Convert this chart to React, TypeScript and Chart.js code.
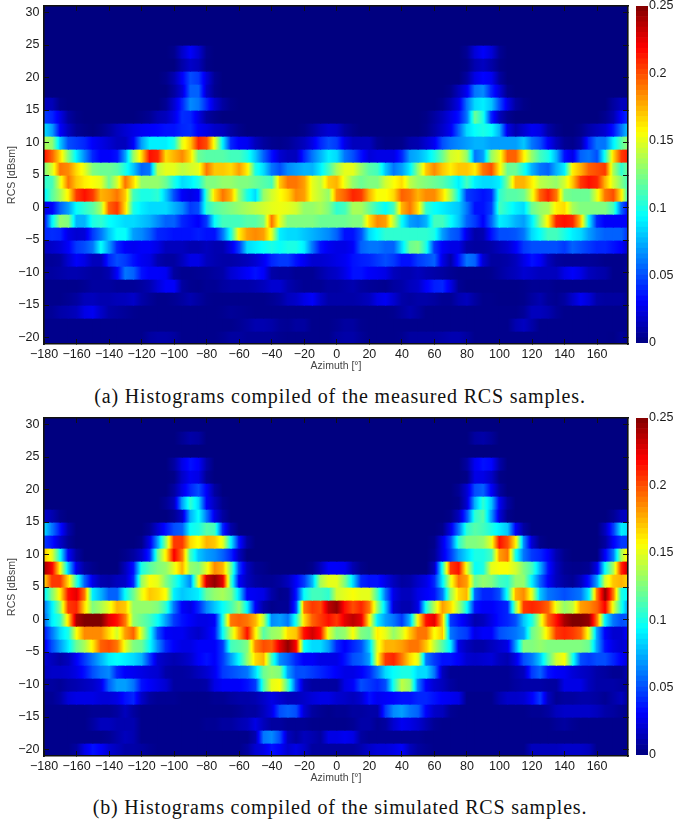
import React, { useEffect, useRef } from "react";
import { Chart, BarController, BarElement, LinearScale, CategoryScale } from "chart.js";

Chart.register(BarController, BarElement, LinearScale, CategoryScale);

const rcsBins = [30, 28, 26, 24, 22, 20, 18, 16, 14, 12, 10, 8, 6, 4, 2, 0, -2, -4, -6, -8, -10, -12, -14, -16, -18, -20];
const azimuthBins = [
  -180, -175, -170, -165, -160, -155, -150, -145, -140, -135, -130, -125,
  -120, -115, -110, -105, -100, -95, -90, -85, -80, -75, -70, -65,
  -60, -55, -50, -45, -40, -35, -30, -25, -20, -15, -10, -5,
  0, 5, 10, 15, 20, 25, 30, 35, 40, 45, 50, 55,
  60, 65, 70, 75, 80, 85, 90, 95, 100, 105, 110, 115,
  120, 125, 130, 135, 140, 145, 150, 155, 160, 165, 170, 175,
];
const azimuthTicks = [-180, -160, -140, -120, -100, -80, -60, -40, -20, 0, 20, 40, 60, 80, 100, 120, 140, 160];
const rcsTicks = [-20, -15, -10, -5, 0, 5, 10, 15, 20, 25, 30];
const colorbarTicks = [0, 0.05, 0.1, 0.15, 0.2, 0.25];
const colorLevels = [
  0, 1, 2, 3, 4, 5, 6, 7, 8, 9, 10, 11, 12, 13, 14, 15, 16, 17, 18, 19, 20, 21, 22, 23, 24, 25, 26, 27, 28, 29, 30, 31,
  32, 33, 34, 35, 36, 37, 38, 39, 40, 41, 42, 43, 44, 45, 46, 47, 48, 49, 50, 51, 52, 53, 54, 55, 56, 57, 58, 59, 60, 61, 62, 63,
];

// Histogram values in thousandths, one row per RCS bin from top to bottom, one value per azimuth bin.
const measured: number[][] = [
  [0,0,0,0,0,0,0,0,0,0,0,0, 0,0,0,0,0,0,0,0,0,0,0,0, 0,0,0,0,0,0,0,0,0,0,0,0, 0,0,0,0,0,0,0,0,0,0,0,0, 0,0,0,0,0,0,0,0,0,0,0,0, 0,0,0,0,0,0,0,0,0,0,0,0],
  [0,0,0,0,0,0,0,0,0,0,0,0, 0,0,0,0,0,0,0,0,0,0,0,0, 0,0,0,0,0,0,0,0,0,0,0,0, 0,0,0,0,0,0,0,0,0,0,0,0, 0,0,0,0,0,0,0,0,0,0,0,0, 0,0,0,0,0,0,0,0,0,0,0,0],
  [0,0,0,0,0,0,0,0,0,0,0,0, 0,0,0,0,0,0,0,0,0,0,0,0, 0,0,0,0,0,0,0,0,0,0,0,0, 0,0,0,0,0,0,0,0,0,0,0,0, 0,0,0,0,0,0,0,0,0,0,0,0, 0,0,0,0,0,0,0,0,0,0,0,0],
  [0,0,0,0,0,0,0,0,0,0,0,0, 0,0,0,0,3,18,30,20,3,0,0,0, 0,0,0,0,0,0,0,0,0,0,0,0, 0,0,0,0,0,0,0,0,0,0,0,0, 0,0,0,0,5,22,30,22,5,0,0,0, 0,0,0,0,0,0,0,0,0,0,0,0],
  [0,0,0,0,0,0,0,0,0,0,0,0, 0,0,0,0,0,10,18,14,2,0,0,0, 0,0,0,0,0,0,0,0,0,0,0,0, 0,0,0,0,0,0,0,0,0,0,0,0, 0,0,0,0,2,12,16,10,2,0,0,0, 0,0,0,0,0,0,0,0,0,0,0,0],
  [0,0,0,0,0,0,0,0,0,0,0,0, 0,0,0,3,12,30,50,45,22,5,0,0, 0,0,0,0,0,0,0,0,0,0,0,0, 0,0,0,0,0,0,0,0,0,0,0,0, 0,0,0,0,8,25,32,28,8,0,0,0, 0,0,0,0,0,0,0,0,0,0,0,0],
  [0,0,0,0,0,0,0,0,0,0,0,0, 0,0,0,0,8,22,55,55,18,4,0,0, 0,0,0,0,0,0,0,0,0,0,0,0, 0,0,0,0,0,0,0,0,0,0,0,0, 0,0,3,15,28,60,65,40,22,3,0,0, 0,0,0,0,0,0,0,0,0,0,0,0],
  [15,14,2,0,0,0,0,0,0,0,0,0, 0,0,0,5,20,40,65,60,40,20,8,2, 0,0,0,0,0,0,0,0,0,0,0,0, 0,0,0,0,0,0,0,0,0,0,0,0, 0,3,12,25,60,85,90,80,50,25,8,2, 0,0,0,0,0,0,0,0,0,0,8,15],
  [45,40,25,8,2,0,0,0,0,0,0,0, 2,5,12,15,25,42,40,25,8,3,0,0, 0,0,0,0,0,0,0,0,0,0,0,0, 0,0,0,0,0,0,0,0,0,0,0,2, 8,15,25,35,60,120,100,40,15,4,0,0, 0,0,0,0,0,0,0,0,0,4,12,32],
  [85,70,30,15,5,2,0,3,8,15,20,25, 28,30,32,35,35,40,42,30,25,18,15,8, 3,0,0,0,0,0,0,0,2,8,15,20, 18,8,3,0,0,0,0,0,0,0,0,3, 10,18,28,55,85,95,100,95,75,25,12,20, 28,25,10,3,0,0,3,10,15,20,35,60],
  [135,130,80,50,45,40,30,25,20,15,15,30, 70,90,90,90,100,150,170,210,200,150,90,40, 30,28,15,8,4,3,5,10,15,25,40,50, 45,25,15,15,15,5,2,2,3,10,12,20, 28,50,60,65,70,75,75,70,70,70,70,80, 60,50,30,15,5,3,10,40,60,60,90,115],
  [215,195,165,125,90,65,40,30,30,35,70,130, 165,215,210,165,175,185,165,120,115,115,115,110, 110,100,80,55,35,20,15,15,40,60,75,90, 85,60,50,35,22,25,25,25,40,70,75,85, 100,120,145,150,130,60,70,130,150,195,195,160, 130,110,100,75,35,25,55,60,50,100,165,205],
  [125,145,190,185,165,150,125,120,120,115,100,80, 55,60,140,150,150,140,145,150,190,170,170,165, 180,160,100,85,60,50,65,70,75,75,90,110, 135,150,150,130,115,110,80,60,70,90,130,170, 185,170,160,170,170,160,190,200,160,120,120,100, 75,60,55,75,90,160,175,195,200,205,135,105],
  [105,110,150,190,170,160,155,150,120,145,190,165, 130,130,130,120,100,85,90,100,125,125,130,130, 125,125,120,115,110,170,190,190,180,150,140,170, 175,150,130,120,125,125,145,155,165,140,130,125, 120,115,105,90,110,90,85,85,90,125,175,175, 160,140,135,130,145,170,205,215,210,175,145,125],
  [90,115,135,160,205,215,205,175,180,190,170,110, 100,100,105,80,50,30,25,30,110,165,190,175, 130,100,85,130,145,155,165,185,180,150,140,130, 185,195,210,205,175,155,155,165,195,190,175,185, 185,165,135,95,45,40,35,40,105,115,115,120, 150,195,210,190,125,120,120,120,150,190,200,160],
  [25,30,55,70,95,105,115,135,195,205,165,100, 90,85,85,85,75,65,45,50,105,115,120,125, 130,135,140,145,150,152,150,145,130,130,135,125, 105,110,135,135,120,105,95,110,175,190,165,105, 95,90,85,80,60,35,35,45,110,100,90,85, 120,130,135,160,165,135,125,125,125,125,110,55],
  [30,90,130,125,75,75,100,105,95,90,85,85, 80,75,65,55,55,40,35,30,45,95,110,110, 110,115,115,125,190,150,125,125,125,125,120,120, 120,120,125,125,165,185,180,140,95,70,65,75, 110,110,95,80,55,45,30,55,90,85,75,70, 90,125,160,210,215,210,170,90,40,30,30,30],
  [40,42,40,25,20,22,45,60,80,95,95,70, 65,55,40,38,35,35,35,38,35,35,60,100, 160,180,185,180,150,90,85,85,80,75,70,65, 55,35,35,50,85,95,105,105,105,105,105,105, 100,70,55,50,25,10,12,35,50,50,52,60, 85,95,110,110,100,90,85,70,60,55,55,55],
  [15,18,22,30,45,50,60,95,70,40,30,28, 30,30,25,15,15,15,12,12,15,12,12,25, 45,85,90,95,100,95,100,100,90,60,35,28, 25,25,30,55,60,60,55,55,85,120,125,100, 45,30,25,25,10,8,8,10,15,20,30,45, 50,50,50,50,45,55,50,45,40,40,35,30],
  [6,6,8,20,30,25,15,15,40,50,45,35, 28,25,12,8,8,15,25,25,15,12,10,10, 12,15,20,28,40,45,45,35,28,20,20,22, 25,28,35,38,40,45,50,45,35,35,45,50, 55,25,10,35,60,55,20,8,8,10,15,25, 35,30,15,8,6,6,6,6,5,3,3,3],
  [8,8,10,12,12,10,8,8,12,30,60,55, 35,30,30,28,8,4,4,5,6,8,10,20, 25,30,35,30,10,8,8,5,5,5,10,15, 18,25,35,35,30,28,25,15,12,12,15,12, 10,8,5,3,3,3,3,4,8,12,15,20, 18,15,15,15,25,30,25,15,12,10,3,3],
  [3,3,3,3,3,5,8,8,8,6,6,6, 8,12,22,30,30,8,4,3,5,5,8,10, 10,10,12,15,20,20,12,8,5,5,5,8, 8,10,12,8,6,5,4,8,10,15,18,30, 38,40,25,5,2,2,2,2,2,2,2,3, 5,5,5,3,3,3,3,3,3,3,3,3],
  [3,3,3,5,8,14,15,12,12,14,15,18, 10,6,3,3,5,8,12,8,4,3,3,3, 3,3,3,3,5,8,15,18,25,30,18,10, 10,10,10,12,15,25,28,20,10,8,10,10, 8,5,5,12,15,8,3,3,2,2,2,3, 8,12,6,4,8,18,28,22,10,8,8,8],
  [5,6,10,12,15,25,28,18,10,8,6,4, 3,3,3,3,3,3,3,3,3,3,4,6, 5,4,3,3,3,3,3,3,3,3,3,3, 3,3,3,3,3,3,3,4,8,12,8,3, 3,3,3,3,3,3,3,3,3,3,3,6, 15,15,12,6,3,3,3,3,3,3,3,3],
  [3,3,3,3,3,3,3,3,3,3,3,3, 3,3,3,3,3,3,3,3,3,3,3,3, 5,8,12,12,10,6,5,8,8,3,3,3, 5,8,8,4,3,3,3,3,3,3,3,3, 3,3,3,3,3,3,3,3,3,3,12,16, 10,3,3,3,3,3,3,3,3,3,3,3],
  [3,3,3,3,3,3,3,3,3,3,3,3, 3,8,10,10,8,3,3,3,3,3,5,8, 8,6,6,6,6,4,3,3,3,3,3,3, 8,10,10,6,3,3,3,3,4,8,8,8, 8,10,12,12,8,3,3,3,3,3,3,3, 3,3,3,3,3,3,3,3,3,3,2,6],
];

const simulated: number[][] = [
  [0,0,0,0,0,0,0,0,0,0,0,0, 0,0,0,0,0,0,0,0,0,0,0,0, 0,0,0,0,0,0,0,0,0,0,0,0, 0,0,0,0,0,0,0,0,0,0,0,0, 0,0,0,0,0,0,0,0,0,0,0,0, 0,0,0,0,0,0,0,0,0,0,0,0],
  [0,0,0,0,0,0,0,0,0,0,0,0, 0,0,0,0,0,5,10,8,0,0,0,0, 0,0,0,0,0,0,0,0,0,0,0,0, 0,0,0,0,0,0,0,0,0,0,0,0, 0,0,0,0,0,8,10,6,0,0,0,0, 0,0,0,0,0,0,0,0,0,0,0,0],
  [0,0,0,0,0,0,0,0,0,0,0,0, 0,0,0,0,0,0,0,0,0,0,0,0, 0,0,0,0,0,0,0,0,0,0,0,0, 0,0,0,0,0,0,0,0,0,0,0,0, 0,0,0,0,0,0,0,0,0,0,0,0, 0,0,0,0,0,0,0,0,0,0,0,0],
  [0,0,0,0,0,0,0,0,0,0,0,0, 0,0,0,0,8,25,35,30,10,0,0,0, 0,0,0,0,0,0,0,0,0,0,0,0, 0,0,0,0,0,0,0,0,0,0,0,0, 0,0,0,0,8,28,35,32,10,0,0,0, 0,0,0,0,0,0,0,0,0,0,0,0],
  [0,0,0,0,0,0,0,0,0,0,0,0, 0,0,0,0,2,18,28,25,5,0,0,0, 0,0,0,0,0,0,0,0,0,0,0,0, 0,0,0,0,0,0,0,0,0,0,0,0, 0,0,0,0,2,25,25,18,2,0,0,0, 0,0,0,0,0,0,0,0,0,0,0,0],
  [0,0,0,0,0,0,0,0,0,0,0,0, 0,0,0,0,8,25,40,50,30,8,0,0, 0,0,0,0,0,0,0,0,0,0,0,0, 0,0,0,0,0,0,0,0,0,0,0,0, 0,0,0,5,20,50,55,30,8,0,0,0, 0,0,0,0,0,0,0,0,0,0,0,0],
  [0,0,0,0,0,0,0,0,0,0,0,0, 0,0,0,5,15,70,105,85,30,15,3,0, 0,0,0,0,0,0,0,0,0,0,0,0, 0,0,0,0,0,0,0,0,0,0,0,0, 0,0,0,2,20,75,105,80,28,8,0,0, 0,0,0,0,0,0,0,0,0,0,0,0],
  [18,12,3,0,0,0,0,0,0,0,0,0, 0,0,0,0,5,18,75,95,60,25,8,0, 0,0,0,0,0,0,0,0,0,0,0,0, 0,0,0,0,0,0,0,0,0,0,0,0, 0,0,2,15,50,105,115,70,22,3,0,0, 0,0,0,0,0,0,0,0,0,0,5,15],
  [85,60,35,10,0,0,0,0,0,0,0,0, 0,5,20,35,50,55,95,100,115,110,40,10, 0,0,0,0,0,0,0,0,0,0,0,0, 0,0,0,0,0,0,0,0,0,0,0,0, 0,3,25,60,105,115,110,100,90,80,30,8, 0,0,0,0,0,0,0,0,0,15,45,90],
  [45,35,18,5,0,0,0,0,0,0,0,0, 3,25,70,130,205,205,165,155,175,170,150,90, 35,8,0,0,0,0,0,0,0,0,0,0, 0,0,0,0,0,0,0,0,0,0,0,0, 3,25,50,105,125,125,130,150,215,200,160,65, 20,3,0,0,0,0,0,0,0,8,30,45],
  [170,150,95,30,8,0,0,0,0,0,3,8, 18,40,120,160,220,190,110,80,70,65,55,40, 15,0,0,0,0,0,0,0,0,0,0,0, 0,0,0,0,0,0,0,0,0,0,0,0, 5,25,45,70,85,100,100,110,180,190,100,60, 45,40,30,12,3,0,0,0,0,30,60,135],
  [240,220,155,80,25,8,3,0,0,0,15,35, 100,115,125,130,150,175,130,125,150,185,175,120, 45,15,5,3,0,0,0,0,0,3,15,30, 30,28,12,3,0,0,0,0,0,0,0,0, 15,100,205,215,150,95,100,150,155,155,145,125, 110,75,35,15,5,3,3,5,25,95,135,210],
  [165,205,205,165,105,55,25,12,10,15,18,40, 130,155,150,125,105,85,65,150,230,245,225,110, 30,15,8,5,5,8,15,30,45,75,135,150, 150,125,85,40,35,35,25,15,8,10,18,25, 40,90,150,190,180,120,130,125,110,105,130,130, 90,55,30,15,8,5,15,35,70,145,170,175],
  [90,125,160,215,225,190,90,75,55,55,95,120, 150,170,165,155,90,80,85,90,120,130,135,125, 85,30,28,25,10,3,5,35,95,110,110,105, 145,150,155,150,150,110,60,25,15,15,25,30, 35,60,130,165,175,55,40,40,50,100,175,185, 150,80,60,55,50,55,60,90,190,245,190,100],
  [60,90,130,205,210,165,125,135,150,175,170,130, 130,130,125,105,60,30,25,40,65,80,95,110, 130,90,30,10,3,5,5,45,190,205,200,235, 245,215,200,210,190,130,80,20,12,12,25,100, 140,180,165,135,95,35,30,30,35,40,130,205, 210,205,195,150,130,140,180,185,195,220,150,100],
  [55,90,105,165,240,250,250,250,225,215,190,130, 120,110,95,70,45,35,30,25,25,30,100,190, 195,190,175,140,65,70,60,100,165,195,205,215, 205,225,235,225,160,90,70,60,45,75,160,215, 225,170,45,35,25,12,15,25,35,40,50,80, 100,145,195,215,240,250,250,245,190,90,60,50],
  [35,60,85,100,155,185,185,185,165,145,180,195, 145,100,50,30,28,28,22,18,25,35,95,140, 180,215,160,115,130,135,165,170,215,230,215,150, 125,130,155,125,120,160,150,130,145,170,190,190, 155,170,60,50,45,25,30,30,50,55,60,70, 120,135,165,205,210,205,195,150,70,30,20,20],
  [25,50,70,90,120,135,160,195,200,190,150,125, 120,95,65,40,30,25,25,30,30,30,45,110, 115,125,185,200,195,225,245,220,95,85,85,70, 40,30,40,50,80,150,175,175,180,190,190,170, 140,115,90,25,15,10,10,15,20,25,70,125, 125,130,125,125,125,125,125,120,70,35,25,20],
  [20,15,10,15,30,45,60,75,90,95,90,85, 75,45,20,15,12,15,20,30,35,30,45,70, 95,130,165,175,110,65,55,40,30,30,25,25, 25,35,50,55,70,155,205,210,190,165,150,60, 45,35,35,30,20,18,20,22,15,12,25,50, 60,80,115,145,155,100,50,45,50,50,40,30],
  [15,18,18,20,25,35,50,60,65,40,30,28, 25,22,20,10,8,8,10,15,20,28,45,50, 55,60,85,120,130,125,70,50,50,45,40,35, 30,25,25,30,40,60,85,95,100,100,85,85, 60,15,5,5,5,5,5,5,5,5,10,15, 45,55,35,30,28,22,18,15,10,8,5,5],
  [8,8,6,10,12,15,18,25,55,70,70,60, 35,30,25,20,8,8,8,8,10,25,30,30, 30,35,45,110,150,155,110,50,15,8,8,8, 8,25,30,50,45,40,50,100,140,130,60,30, 20,15,8,5,5,5,5,5,5,5,8,10, 10,10,8,8,25,25,25,15,10,10,10,8],
  [5,5,10,22,25,25,25,22,22,25,35,40, 18,8,5,5,5,3,3,3,3,5,5,8, 10,10,12,18,25,20,15,15,18,22,25,25, 20,18,15,20,35,28,30,32,35,35,40,40, 35,30,28,25,3,3,3,3,12,18,18,20, 30,45,15,5,8,8,10,10,8,5,10,15],
  [3,3,3,3,3,3,5,5,5,8,15,8, 3,3,3,3,3,3,3,3,3,3,3,3, 5,8,8,15,25,50,55,50,20,8,5,3, 5,5,8,8,10,10,45,65,70,60,55,30, 18,15,5,3,3,3,3,3,3,3,3,3, 5,5,8,15,18,18,18,18,15,10,8,5],
  [3,3,3,3,3,3,8,15,15,12,12,12, 3,3,3,3,3,3,3,3,5,5,8,8, 12,15,25,15,8,8,5,5,5,3,3,3, 3,3,5,10,10,5,8,20,28,25,20,12, 5,3,3,3,3,3,3,3,3,3,3,3, 3,3,3,6,8,5,3,3,3,3,3,3],
  [3,3,3,3,3,3,3,3,5,10,15,12, 3,3,3,3,3,3,3,3,3,3,3,3, 3,3,12,60,65,50,15,8,15,12,8,25, 25,28,25,8,5,5,5,5,5,5,5,3, 3,3,3,3,3,3,3,3,3,3,3,3, 3,3,3,3,3,3,3,3,3,3,3,3],
  [3,3,3,3,8,25,35,30,20,15,10,10, 8,5,3,3,3,3,3,3,3,3,3,3, 3,8,20,25,35,30,20,25,18,8,8,8, 8,8,8,12,18,22,22,25,30,15,8,5, 3,3,3,3,3,3,3,3,3,3,3,3, 15,15,15,15,18,18,18,15,3,3,3,3],
];

const FONT = "'Liberation Sans', Arial, sans-serif";
const TICK_COLOR = "#1a1a1a";
const AXIS_COLOR = "#111111";
const TICK_LEN = -5;

function jet(f: number): [number, number, number] {
  const c = (x: number) => Math.max(0, Math.min(1, x));
  return [c(1.5 - Math.abs(4 * f - 3)), c(1.5 - Math.abs(4 * f - 2)), c(1.5 - Math.abs(4 * f - 1))];
}
function jetCss(f: number): string {
  const [r, g, b] = jet(f);
  return `rgb(${Math.round(r * 255)},${Math.round(g * 255)},${Math.round(b * 255)})`;
}
const minus = (v: number) => String(v).replace("-", "\u2212");

function cellFill(ctx: any) {
  const row: number[] = ctx.dataset.values;
  const i: number = ctx.dataIndex;
  if (i === undefined) return jetCss(0);
  const a = row[i];
  const b = row[(i + 1) % row.length];
  if (a === b) return jetCss(a / 250);
  const sx = ctx.chart.scales.x;
  const x0 = sx.getPixelForValue(azimuthBins[i]);
  const x1 = sx.getPixelForValue(azimuthBins[i] + 5);
  const g = ctx.chart.ctx.createLinearGradient(x0, 0, x1, 0);
  for (let k = 0; k <= 8; k++) g.addColorStop(k / 8, jetCss((a + ((b - a) * k) / 8) / 250));
  return g;
}

function fixedSize(prop: "width" | "height", size: number) {
  return (s: any) => {
    s[prop] = size;
    s.paddingTop = 0;
    s.paddingBottom = 0;
    s.paddingLeft = 0;
    s.paddingRight = 0;
  };
}

function tickAxis(position: string, axis: string, min: number, max: number, ticks: number[], fit: (s: any) => void, extra: any) {
  return {
    type: "linear",
    position,
    axis,
    min,
    max,
    offset: false,
    afterBuildTicks: (s: any) => {
      s.ticks = ticks.map((value) => ({ value }));
    },
    afterFit: fit,
    grid: { offset: false, drawOnChartArea: false, drawTicks: true, tickLength: TICK_LEN, color: AXIS_COLOR, lineWidth: 1, z: 1 },
    border: { display: true, color: AXIS_COLOR, width: 1.6, z: 2 },
    ...extra,
  };
}

function HeatPanel({ rows, top, caption, captionTop }: { rows: number[][]; top: number; caption: string; captionTop: number }) {
  const mainRef = useRef<HTMLCanvasElement>(null);
  const barRef = useRef<HTMLCanvasElement>(null);

  useEffect(() => {
    const datasets = rows.map((values, r) => ({
      values,
      data: azimuthBins.map((az) => ({ x: az + 2.5, y: [rcsBins[r] - 1, rcsBins[r] + 1] })),
      backgroundColor: cellFill,
    }));
    const main = new Chart(mainRef.current as HTMLCanvasElement, {
      type: "bar",
      data: { datasets } as any,
      options: {
        animation: false,
        responsive: false,
        events: [],
        layout: { padding: { top: 6, right: 4, left: 0, bottom: 0 } },
        datasets: { bar: { grouped: false, categoryPercentage: 1, barPercentage: 1, borderWidth: 0, inflateAmount: 0.6 } },
        scales: {
          x: tickAxis("bottom", "x", -180, 179, azimuthTicks, fixedSize("height", 28), {
            ticks: { autoSkip: false, maxRotation: 0, minRotation: 0, padding: 8.5, color: TICK_COLOR, font: { family: FONT, size: 12.5 }, callback: (v: number) => minus(v) },
            title: { display: true, text: "Azimuth [\u00b0]", color: "#444444", font: { family: FONT, size: 10.5 }, padding: { top: 0, bottom: 0 } },
          }),
          y: tickAxis("left", "y", -21, 31, rcsTicks, fixedSize("width", 44), {
            ticks: { autoSkip: false, padding: 9.5, color: TICK_COLOR, font: { family: FONT, size: 12.5 }, callback: (v: number) => minus(v) },
            title: { display: true, text: "RCS [dBsm]", color: "#444444", font: { family: FONT, size: 10.5 }, padding: { top: 6, bottom: 0 } },
          }),
          x2: tickAxis("top", "x", -180, 179, azimuthTicks, fixedSize("height", 0), { ticks: { display: false } }),
          y2: tickAxis("right", "y", -21, 31, rcsTicks, fixedSize("width", 0), { ticks: { display: false } }),
        },
      } as any,
    });

    const bar = new Chart(barRef.current as HTMLCanvasElement, {
      type: "bar",
      data: {
        labels: ["c"],
        datasets: colorLevels.map((l) => ({
          data: [[(l / colorLevels.length) * 0.25, ((l + 1) / colorLevels.length) * 0.25]],
          backgroundColor: jetCss((l + 0.5) / colorLevels.length),
        })),
      } as any,
      options: {
        animation: false,
        responsive: false,
        events: [],
        layout: { padding: { top: 6, left: 6, right: 0, bottom: 29 } },
        datasets: { bar: { grouped: false, categoryPercentage: 1, barPercentage: 1, borderWidth: 0 } },
        scales: {
          x: { display: false },
          y: {
            position: "right",
            min: 0,
            max: 0.25,
            afterBuildTicks: (s: any) => {
              s.ticks = colorbarTicks.map((value) => ({ value }));
            },
            afterFit: fixedSize("width", 26),
            grid: { display: false, drawTicks: false },
            border: { display: false },
            ticks: { padding: 1, color: TICK_COLOR, font: { family: FONT, size: 12.5 }, callback: (v: number) => String(v) },
          },
        },
      } as any,
    });

    return () => {
      main.destroy();
      bar.destroy();
    };
  }, [rows]);

  return (
    <>
      <canvas ref={mainRef} width={632} height={372} style={{ position: "absolute", left: 0, top, width: 632, height: 372 }} />
      <canvas ref={barRef} width={44} height={372} style={{ position: "absolute", left: 630, top, width: 44, height: 372 }} />
      <div
        style={{
          position: "absolute",
          left: 3,
          width: 674,
          top: captionTop,
          textAlign: "center",
          fontFamily: "'Liberation Serif', serif",
          fontSize: 20,
          letterSpacing: 0.82,
          lineHeight: "24px",
          color: "#111",
          whiteSpace: "nowrap",
        }}
      >
        {caption}
      </div>
    </>
  );
}

export default function App() {
  return (
    <div style={{ position: "absolute", left: 0, top: 0, width: 674, height: 823, background: "#fff", overflow: "hidden" }}>
      <HeatPanel rows={measured} top={0} caption="(a) Histograms compiled of the measured RCS samples." captionTop={384} />
      <HeatPanel rows={simulated} top={412} caption="(b) Histograms compiled of the simulated RCS samples." captionTop={795} />
    </div>
  );
}
